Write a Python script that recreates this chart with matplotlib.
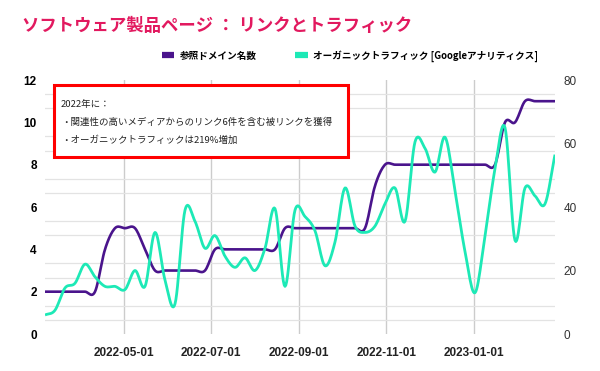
import matplotlib.pyplot as plt
import matplotlib.dates as mdates
from matplotlib.lines import Line2D
from matplotlib.patches import Rectangle
import numpy as np
import pandas as pd

cjk = ['Noto Sans CJK JP', 'DejaVu Sans']
plt.rcParams['font.family'] = ['Liberation Sans', 'DejaVu Sans']

# weekly data
weeks = pd.date_range('2022-03-07', periods=52, freq='7D')
ref_domains = [2, 2, 2, 2, 2, 2, 4, 5, 5, 5,
               4, 3, 3, 3, 3, 3, 3, 4, 4, 4,
               4, 4, 4, 4, 5, 5, 5, 5, 5, 5,
               5, 5, 5, 7, 8, 8, 8, 8, 8, 8,
               8, 8, 8, 8, 8, 8, 10, 10, 11, 11,
               11, 11]
organic = [6, 7.5, 14.5, 16, 22, 18, 15, 15, 14, 20,
           15, 32, 17, 9.5, 39, 35.5, 27, 31, 24.5, 21,
           24, 20, 27, 39.5, 15, 39, 37, 32.5, 21.5, 29,
           46, 34, 32, 34, 41, 46, 35.5, 60.5, 58.5, 51,
           62, 45, 26, 13, 31, 52, 65, 29.5, 46, 43.5,
           41, 56.5]
date_ticks = ['2022-05-01', '2022-07-01', '2022-09-01', '2022-11-01', '2023-01-01']
series_names = ['参照ドメイン名数', 'オーガニックトラフィック [Googleアナリティクス]']
title = 'ソフトウェア製品ページ ： リンクとトラフィック'
note = ['2022年に：',
        '・関連性の高いメディアからのリンク6件を含む被リンクを獲得',
        '・オーガニックトラフィックは219%増加']

purple = '#4A148C'
green = '#1DE9B6'


def smooth(x, y, n=12):
    # cardinal (catmull-rom) curve through the points, like the "smooth" line option
    x = np.asarray(x, float)
    y = np.asarray(y, float)
    m = np.gradient(y)
    t = np.linspace(0, 1, n, endpoint=False)
    h00 = 2 * t**3 - 3 * t**2 + 1
    h10 = t**3 - 2 * t**2 + t
    h01 = -2 * t**3 + 3 * t**2
    h11 = t**3 - t**2
    xs, ys = [], []
    for i in range(len(y) - 1):
        xs.append(x[i] + t * (x[i + 1] - x[i]))
        ys.append(h00 * y[i] + h10 * m[i] + h01 * y[i + 1] + h11 * m[i + 1])
    xs.append([x[-1]])
    ys.append([y[-1]])
    return np.concatenate(xs), np.concatenate(ys)


x = mdates.date2num(weeks)

fig = plt.figure(figsize=(6, 3.71), dpi=100)
ax = fig.add_axes([0.075, 0.0997, 0.85, 0.6846])
ax2 = ax.twinx()

xs, ys = smooth(x, ref_domains)
ax.plot(xs, ys, color=purple, lw=1.9, solid_capstyle='butt')
xs, ys = smooth(x, organic)
ax2.plot(xs, ys, color=green, lw=2.0, solid_capstyle='butt')

ax.set_xlim(x[0], x[-1])
ax.set_ylim(0, 12)
ax2.set_ylim(0, 80)

ax.set_yticks(range(0, 13, 2), labels=[str(v) for v in range(0, 13, 2)],
              fontweight='bold', fontsize=8.5, color='black')
ax2.set_yticks(range(0, 81, 20), labels=[str(v) for v in range(0, 81, 20)],
               fontsize=8.5, color='#333333')
minor = [k * 2 / 3 for k in range(1, 18) if k % 3 != 0]
ax.set_yticks(minor, minor=True)
ax.grid(axis='y', which='minor', color='#e3e3e3', lw=0.9)

tick_dates = pd.to_datetime(date_ticks)
ax.set_xticks(mdates.date2num(tick_dates), labels=date_ticks,
              fontweight='bold', fontsize=8.5, color='#222222')
ax.grid(axis='x', which='major', color='#cccccc', lw=1)

ax.tick_params(axis='y', which='both', length=0, pad=6)
ax.tick_params(axis='x', length=0, pad=9)
ax2.tick_params(axis='y', length=0, pad=6)
for a in (ax, ax2):
    for s in a.spines.values():
        s.set_visible(False)

fig.text(22 / 600, 1 - 26 / 371, title, fontsize=12.5, fontweight='bold',
         color='#E2195F', family=cjk, va='center')

handles = [Line2D([], [], color=purple, lw=4.5, solid_capstyle='butt'),
           Line2D([], [], color=green, lw=4.5, solid_capstyle='butt')]
fig.legend(handles, series_names, loc='center', bbox_to_anchor=(350 / 600, 1 - 56 / 371),
           ncol=2, frameon=False, prop={'family': cjk, 'size': 6.9, 'weight': 'bold'},
           handlelength=1.3, handletextpad=0.6, columnspacing=4.0)

box = Rectangle((54.3 / 600, 1 - 157.3 / 371), 294 / 600, 72.3 / 371,
                transform=fig.transFigure, facecolor='white', edgecolor='#FF0000',
                lw=2.2, zorder=5)
fig.add_artist(box)
for yy, line in zip([104, 122.3, 140], note):
    fig.text(61 / 600, 1 - yy / 371, line, fontsize=6.8, family=cjk,
             va='center', color='#222222', zorder=6)

fig.savefig('out.png', dpi=100)
